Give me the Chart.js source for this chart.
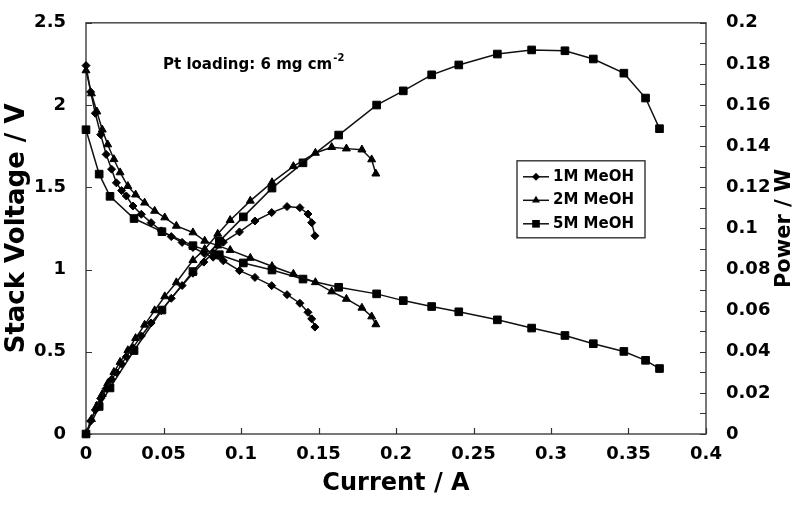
<!DOCTYPE html>
<html>
<head>
<meta charset="utf-8">
<script src="https://cdn.jsdelivr.net/npm/chart.js@4.4.0/dist/chart.umd.min.js"></script>
<style>
  html, body { margin: 0; padding: 0; background: #fff; }
  #wrap { width: 799px; height: 506px; }
</style>
</head>
<body>
<div id="wrap"><canvas id="chart" width="799" height="506"></canvas></div>
<script>
// values: current (A), stack voltage (V), power (W)
const current1M = [0, 0.003, 0.006, 0.0095, 0.013, 0.0165, 0.0196, 0.023, 0.026, 0.0303, 0.0357, 0.042, 0.0486, 0.055, 0.062, 0.069, 0.076, 0.082, 0.0886, 0.099, 0.109, 0.1198, 0.1297, 0.138, 0.1432, 0.1456, 0.1477];
const voltage1M = [2.24, 2.08, 1.95, 1.82, 1.70, 1.61, 1.527, 1.48, 1.447, 1.386, 1.336, 1.285, 1.235, 1.2, 1.165, 1.134, 1.1, 1.075, 1.053, 0.993, 0.952, 0.902, 0.847, 0.795, 0.74, 0.70, 0.65];
const power1M = [0, 0.0063, 0.0117, 0.0173, 0.0221, 0.0266, 0.0299, 0.034, 0.0376, 0.042, 0.0477, 0.054, 0.060, 0.066, 0.0722, 0.0782, 0.0836, 0.0882, 0.0933, 0.0983, 0.1036, 0.1077, 0.1106, 0.1101, 0.107, 0.1028, 0.0964];

const current2M = [0, 0.0035, 0.007, 0.0105, 0.014, 0.018, 0.022, 0.027, 0.032, 0.0378, 0.0443, 0.0508, 0.0583, 0.069, 0.0766, 0.085, 0.093, 0.106, 0.12, 0.1338, 0.148, 0.1585, 0.168, 0.178, 0.1843, 0.187];
const voltage2M = [2.21, 2.07, 1.96, 1.85, 1.76, 1.67, 1.59, 1.507, 1.455, 1.406, 1.356, 1.316, 1.265, 1.225, 1.174, 1.145, 1.118, 1.07, 1.02, 0.973, 0.922, 0.866, 0.821, 0.767, 0.714, 0.666];
const power2M = [0, 0.0072, 0.0137, 0.0194, 0.0246, 0.0301, 0.035, 0.0407, 0.0466, 0.0531, 0.0601, 0.0669, 0.0737, 0.0845, 0.0899, 0.0973, 0.104, 0.1134, 0.1224, 0.1302, 0.1367, 0.1395, 0.1388, 0.1383, 0.1335, 0.1266];

const current5M = [0, 0.0085, 0.0155, 0.031, 0.049, 0.069, 0.086, 0.1015, 0.12, 0.14, 0.163, 0.1875, 0.2047, 0.223, 0.2405, 0.2654, 0.2875, 0.309, 0.3273, 0.347, 0.361, 0.370];
const voltage5M = [1.85, 1.58, 1.445, 1.31, 1.23, 1.145, 1.09, 1.04, 0.997, 0.942, 0.892, 0.852, 0.811, 0.775, 0.743, 0.694, 0.644, 0.599, 0.549, 0.502, 0.448, 0.398];
const power5M = [0, 0.0134, 0.0224, 0.0406, 0.0603, 0.079, 0.0937, 0.1056, 0.1196, 0.1319, 0.1454, 0.160, 0.1669, 0.1747, 0.1795, 0.1848, 0.1868, 0.1864, 0.1824, 0.1755, 0.1634, 0.1485];

const seriesNames = ['1M MeOH', '2M MeOH', '5M MeOH'];
const markerStyles = ['rectRot', 'triangle', 'rect'];
const markerSizes = [4, 4.6, 5.4];

const FONT = "'DejaVu Sans', sans-serif";

function toPoints(xs, ys) {
  return xs.map((x, i) => ({ x: x, y: ys[i] }));
}

function makeSet(label, data, idx, axis) {
  return {
    label: label,
    data: data,
    yAxisID: axis,
    showLine: true,
    borderColor: '#111',
    borderWidth: 1.5,
    backgroundColor: '#111',
    pointStyle: markerStyles[idx],
    pointRadius: markerSizes[idx],
    pointBackgroundColor: '#000',
    pointBorderColor: '#000',
    pointBorderWidth: 1,
    clip: false
  };
}

const datasets = [
  makeSet(seriesNames[0], toPoints(current1M, voltage1M), 0, 'y'),
  makeSet(seriesNames[1], toPoints(current2M, voltage2M), 1, 'y'),
  makeSet(seriesNames[2], toPoints(current5M, voltage5M), 2, 'y'),
  makeSet(seriesNames[0] + ' power', toPoints(current1M, power1M), 0, 'y1'),
  makeSet(seriesNames[1] + ' power', toPoints(current2M, power2M), 1, 'y1'),
  makeSet(seriesNames[2] + ' power', toPoints(current5M, power5M), 2, 'y1')
];

// box and inward tick marks
const frameTicks = {
  id: 'frameTicks',
  beforeDatasetsDraw(chart) {
    const { ctx, chartArea: a, scales } = chart;
    ctx.save();
    ctx.strokeStyle = '#555';
    ctx.lineWidth = 1.6;
    ctx.strokeRect(a.left, a.top, a.right - a.left, a.bottom - a.top);

    ctx.strokeStyle = '#333';
    ctx.lineWidth = 1.2;
    ctx.beginPath();
    scales.x.ticks.forEach(t => {
      const px = Math.round(scales.x.getPixelForValue(t.value)) + 0.5;
      ctx.moveTo(px, a.bottom);
      ctx.lineTo(px, a.bottom - 6);
    });
    scales.y.ticks.forEach(t => {
      const py = Math.round(scales.y.getPixelForValue(t.value)) + 0.5;
      ctx.moveTo(a.left, py);
      ctx.lineTo(a.left + 6, py);
    });
    scales.y1.ticks.forEach(t => {
      const py = Math.round(scales.y1.getPixelForValue(t.value)) + 0.5;
      ctx.moveTo(a.right, py);
      ctx.lineTo(a.right - 6, py);
    });
    ctx.stroke();
    ctx.restore();
  }
};

function drawMarker(ctx, style, x, y, r) {
  ctx.beginPath();
  if (style === 'rectRot') {
    ctx.moveTo(x, y - r);
    ctx.lineTo(x + r, y);
    ctx.lineTo(x, y + r);
    ctx.lineTo(x - r, y);
  } else if (style === 'triangle') {
    ctx.moveTo(x, y - r);
    ctx.lineTo(x + r * 0.866, y + r * 0.5);
    ctx.lineTo(x - r * 0.866, y + r * 0.5);
  } else {
    const s = r * Math.SQRT1_2;
    ctx.rect(x - s, y - s, 2 * s, 2 * s);
  }
  ctx.closePath();
  ctx.fill();
}

// legend box inside the plot, annotation and right axis title
const extras = {
  id: 'extras',
  afterDatasetsDraw(chart) {
    const { ctx, chartArea: a } = chart;
    ctx.save();

    // legend
    const bx = a.left + 431;
    const by = a.top + 138;
    const bw = 128;
    const bh = 77;
    ctx.fillStyle = '#fff';
    ctx.fillRect(bx, by, bw, bh);
    ctx.strokeStyle = '#333';
    ctx.lineWidth = 1.4;
    ctx.strokeRect(bx, by, bw, bh);
    ctx.font = 'bold 15px ' + FONT;
    ctx.textBaseline = 'middle';
    ctx.textAlign = 'left';
    seriesNames.forEach((name, i) => {
      const ly = by + 16 + i * 23.5;
      ctx.strokeStyle = '#111';
      ctx.lineWidth = 1.5;
      ctx.beginPath();
      ctx.moveTo(bx + 6, ly);
      ctx.lineTo(bx + 32, ly);
      ctx.stroke();
      ctx.fillStyle = '#000';
      drawMarker(ctx, markerStyles[i], bx + 19, ly, markerSizes[i]);
      ctx.fillText(name, bx + 36, ly);
    });

    // annotation
    ctx.font = 'bold 15px ' + FONT;
    ctx.textBaseline = 'alphabetic';
    const tx = a.left + 77;
    const ty = a.top + 46;
    const main = 'Pt loading: 6 mg cm';
    ctx.fillText(main, tx, ty);
    const w = ctx.measureText(main).width;
    ctx.font = 'bold 10px ' + FONT;
    ctx.fillText('-2', tx + w + 1, ty - 8);

    // right axis title, reading bottom to top
    ctx.font = 'bold 21px ' + FONT;
    ctx.textAlign = 'center';
    ctx.textBaseline = 'middle';
    ctx.translate(785, (a.top + a.bottom) / 2);
    ctx.rotate(-Math.PI / 2);
    ctx.fillText('Power / W', 0, 0);
    ctx.restore();
  }
};

const tickFont = { family: FONT, size: 18, weight: 'bold' };
const titleFont = { family: FONT, size: 24, weight: 'bold' };

new Chart(document.getElementById('chart'), {
  type: 'scatter',
  data: { datasets: datasets },
  options: {
    responsive: false,
    animation: false,
    layout: { padding: { top: 21, left: 0, right: 0, bottom: 0 } },
    plugins: {
      legend: { display: false },
      tooltip: { enabled: false }
    },
    scales: {
      x: {
        type: 'linear',
        min: 0,
        max: 0.4,
        grid: { display: false },
        border: { display: false },
        ticks: {
          stepSize: 0.05,
          autoSkip: false,
          maxRotation: 0,
          padding: 2,
          color: '#000',
          font: tickFont,
          callback: v => String(+v.toFixed(2))
        },
        title: { display: true, text: 'Current / A', color: '#000', font: titleFont, padding: { top: 0, bottom: 8 } },
        afterFit: s => { s.height = 72; }
      },
      y: {
        type: 'linear',
        position: 'left',
        min: 0,
        max: 2.5,
        grid: { display: false },
        border: { display: false },
        ticks: {
          stepSize: 0.5,
          autoSkip: false,
          padding: 12,
          color: '#000',
          font: tickFont,
          callback: v => String(+v.toFixed(1))
        },
        title: { display: true, text: 'Stack Voltage / V', color: '#000', font: { family: FONT, size: 26, weight: 'bold' }, padding: { top: 2, bottom: 0 } },
        afterFit: s => { s.width = 86; }
      },
      y1: {
        type: 'linear',
        position: 'right',
        min: 0,
        max: 0.2,
        grid: { display: false },
        border: { display: false },
        ticks: {
          stepSize: 0.01,
          autoSkip: false,
          padding: 12,
          color: '#000',
          font: tickFont,
          callback: v => (Math.round(v * 100) % 2 === 0 ? String(+v.toFixed(2)) : '')
        },
        afterFit: s => { s.width = 93; }
      }
    }
  },
  plugins: [frameTicks, extras]
});
</script>
</body>
</html>
